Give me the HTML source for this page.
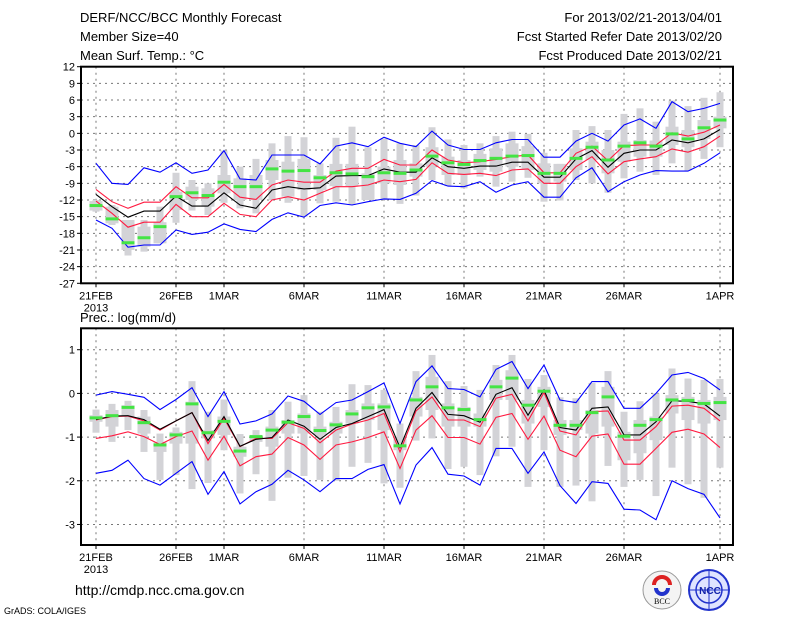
<!DOCTYPE html>
<html><head><meta charset="utf-8"><style>
html,body{margin:0;padding:0;background:#fff;}
svg{display:block;font-family:"Liberation Sans",sans-serif;}
</style></head><body>
<svg id="chart" width="800" height="618" viewBox="0 0 800 618" xmlns="http://www.w3.org/2000/svg">
<rect width="800" height="618" fill="#fff"/>
<g font-size="13" fill="#000">
<text x="80" y="22">DERF/NCC/BCC Monthly Forecast</text>
<text x="80" y="41">Member Size=40</text>
<text x="80" y="60">Mean Surf. Temp.: °C</text>
<text x="722" y="22" text-anchor="end">For 2013/02/21-2013/04/01</text>
<text x="722" y="41" text-anchor="end">Fcst Started Refer Date 2013/02/20</text>
<text x="722" y="60" text-anchor="end">Fcst Produced Date 2013/02/21</text>
<text x="80" y="322">Prec.: log(mm/d)</text>
</g>
<g id="top"></g>
<g id="bot"></g>
<text x="75" y="595" font-size="14">http://cmdp.ncc.cma.gov.cn</text>
<text x="4" y="614" font-size="9">GrADS: COLA/IGES</text>
<g>
<circle cx="662" cy="590" r="19" fill="#f4f4f4" stroke="#999" stroke-width="1"/>
<path d="M654 585 a8 8 0 1 1 16 0" fill="none" stroke="#d22" stroke-width="4"/>
<path d="M656 588 a6 6 0 0 0 12 0" fill="none" stroke="#23c" stroke-width="4"/>
<text x="662" y="604" font-size="8" text-anchor="middle" font-family="Liberation Serif,serif">BCC</text>
</g>
<g>
<circle cx="709" cy="590" r="20" fill="#dfe4ff" stroke="#23c" stroke-width="2"/>
<circle cx="709" cy="590" r="13" fill="none" stroke="#23c" stroke-width="1.5"/>
<line x1="689" y1="590" x2="729" y2="590" stroke="#23c"/>
<line x1="709" y1="570" x2="709" y2="610" stroke="#23c"/>
<text x="710" y="594" font-size="10" font-weight="bold" text-anchor="middle" fill="#12a">NCC</text>
</g>
</svg>
<script>
// ---- temperature panel data ----
const tBlueHi=[-5.4,-9,-9.2,-6.2,-7,-5.3,-7.2,-6.6,-3.1,-8.2,-8.4,-3.9,-3.9,-3.9,-5.5,-2.3,-1.7,-2.4,-0.7,-1.8,-2.4,0.4,-2.1,-2.9,-2.9,-1.7,-1.1,-1.1,-4.3,-4.3,-1.4,0,-1.4,1.5,2.6,0.9,5.7,3.9,4.5,5.4];
const tRedHi=[-10.1,-12.3,-13.5,-12.4,-12.4,-9.6,-11.6,-11.6,-9.2,-11.5,-11.9,-9.3,-8.4,-8.8,-8.8,-6.8,-6.3,-6.3,-4.7,-5.7,-5.7,-3,-4.8,-5.3,-5.1,-4.7,-4.2,-3.9,-7.1,-7.1,-3.6,-2.3,-4.9,-2.2,-2.1,-2.1,0.1,-0.5,0.2,1.5];
const tMean=[-11,-13.2,-15.1,-14,-14,-11.3,-13.1,-13.1,-10.7,-12.9,-13.5,-10.2,-9.6,-10,-9.8,-7.7,-7.6,-7.6,-6.4,-7,-7,-4.4,-6,-6.3,-5.9,-5.9,-5.2,-5.2,-7.9,-7.9,-4.6,-3.1,-6.1,-3.6,-3,-3,-1.2,-1.7,-1,0.7];
const tRedLo=[-12.2,-14.4,-16.9,-16,-16,-12.8,-15,-15,-12.6,-14.6,-15,-12,-11.4,-12,-10.8,-9.6,-9.6,-9.3,-8.4,-8.7,-8.3,-5.3,-7.2,-7.4,-7.2,-7.6,-6.6,-6.4,-9,-9,-6,-4.2,-7.3,-5.1,-4.6,-4.2,-2.8,-3.4,-2.4,-0.5];
const tBlueLo=[-15.6,-17.1,-20.5,-20.1,-20.1,-17.4,-18.2,-17.8,-16.3,-17.3,-17.7,-15.5,-14.3,-15.1,-13,-12.5,-12.9,-12.3,-11.8,-11.9,-10.8,-8.5,-9.5,-9.6,-8.7,-10.6,-9.3,-8.7,-11.5,-11.5,-8,-6.2,-10.5,-8.7,-7.5,-6.7,-6.8,-6.8,-5.4,-3.5];
const tMax=[-12,-12.9,-15.6,-15.6,-13.2,-7.1,-8.4,-9,-3.1,-6,-4.6,-1.8,-0.5,-0.7,-5.4,-0.8,1.2,-2.5,-0.9,-1.8,-2.1,1.1,-1.1,-2.1,-1.8,-0.5,0.3,-0.1,-3.5,-5.5,0.6,1.3,0.6,3.5,4.5,2.1,5.9,4.9,6.4,7.4];
const tMin=[-14.1,-16.5,-22,-21.3,-19.8,-16.1,-13.9,-14.7,-12.5,-13.5,-14.4,-12,-12.5,-15,-12.6,-12.3,-12.9,-12,-12,-12.7,-11.2,-8.4,-9.5,-9.9,-7.8,-9.6,-8.7,-8,-12.3,-12.1,-8.4,-9,-10.7,-8.1,-6.9,-7.5,-5.4,-6.7,-4.6,-2.5];
const tBoxHi=[-12.2,-13.2,-15.6,-16.8,-16,-10.5,-9.6,-9.9,-7.5,-8.1,-7.5,-4.8,-5.1,-4.6,-7.5,-5.5,-5.5,-7.2,-6,-4.8,-5.4,-2.5,-4.2,-4.8,-3.7,-2.7,-1.8,-2.3,-5.4,-5.5,-2.7,-1.5,-3,-1.5,-1.2,-1.3,1.2,0.6,2.4,3];
const tBoxLo=[-13.9,-16.2,-21,-20.4,-19.8,-13.8,-12,-13.2,-10.8,-12,-12,-8.4,-11.4,-10.2,-10.2,-9.5,-9.5,-12,-9,-9.3,-7.8,-6,-7.5,-7.5,-6.6,-6.9,-6,-6.6,-9,-8.7,-6.6,-4.8,-7.2,-5.1,-4.2,-4.2,-2.1,-2.5,-1,0.9];
const tObs=[-13,-15.4,-19.7,-18.8,-16.8,-11.4,-10.7,-11.2,-8.8,-9.6,-9.6,-6.4,-6.8,-6.7,-8,-7.1,-7.3,-7.8,-7.1,-7.2,-6.6,-4.1,-5.3,-5.6,-4.9,-4.5,-4.1,-4.0,-7.2,-7.2,-4.5,-2.5,-4.8,-2.3,-1.7,-2.3,-0.1,-1.0,1.0,2.4];
const tTicks=[12,9,6,3,0,-3,-6,-9,-12,-15,-18,-21,-24,-27];
// ---- precipitation panel data ----
const pBlueHi=[-0.04,0.04,-0.02,-0.09,-0.37,-0.14,0.13,-0.53,0.04,-0.70,-0.63,-0.47,-0.06,-0.18,-0.48,-0.21,-0.15,0.04,0.24,-0.69,0.27,0.63,0.11,0.09,-0.08,0.55,0.73,0.11,0.65,-0.15,-0.21,0.27,0.27,-0.34,-0.34,0,0.42,0.48,0.34,0.08];
const pRedHi=[-0.61,-0.53,-0.52,-0.63,-0.84,-0.63,-0.44,-1.15,-0.57,-1.22,-1.03,-1.03,-0.67,-0.80,-1.13,-0.84,-0.70,-0.61,-0.46,-1.34,-0.40,-0.08,-0.61,-0.61,-0.76,-0.11,-0.02,-0.63,0.02,-0.86,-0.95,-0.42,-0.40,-1.07,-1.07,-0.76,-0.29,-0.27,-0.34,-0.63];
const pMean=[-0.60,-0.52,-0.51,-0.60,-0.82,-0.63,-0.44,-1.08,-0.53,-1.21,-1.05,-1.01,-0.61,-0.75,-1.05,-0.78,-0.69,-0.53,-0.37,-1.24,-0.34,0.02,-0.48,-0.51,-0.66,-0.02,0.13,-0.50,0.08,-0.78,-0.84,-0.34,-0.31,-0.95,-0.95,-0.65,-0.17,-0.18,-0.24,-0.52];
const pRedLo=[-1.03,-0.97,-0.88,-0.99,-1.17,-0.99,-0.86,-1.53,-0.98,-1.66,-1.45,-1.39,-1.01,-1.18,-1.51,-1.18,-1.11,-1.01,-0.88,-1.72,-0.84,-0.51,-1.01,-1.01,-1.16,-0.55,-0.46,-1.05,-0.52,-1.30,-1.45,-0.98,-0.93,-1.62,-1.62,-1.26,-0.89,-0.82,-0.93,-1.24];
const pBlueLo=[-1.83,-1.76,-1.53,-1.95,-2.10,-1.83,-1.56,-2.31,-1.79,-2.53,-2.25,-2.08,-1.76,-1.98,-2.25,-1.95,-1.95,-1.74,-1.63,-2.53,-1.64,-1.24,-1.85,-1.89,-2.10,-1.26,-1.26,-1.83,-1.34,-2.11,-2.52,-2.02,-2.06,-2.65,-2.67,-2.89,-2.00,-2.18,-2.31,-2.85];
const pMax=[-0.37,-0.24,-0.17,-0.38,-0.92,-0.78,0.28,-0.42,-0.14,-0.93,-0.84,-0.38,-0.19,-0.04,-0.42,-0.31,0.21,0.19,0.08,-0.69,0.51,0.88,0.28,0.17,0.08,0.65,0.88,0.33,0.42,-0.09,-0.11,0.24,0.51,-0.42,-0.18,0,0.57,0.34,0.31,0.33];
const pMin=[-0.90,-1.11,-0.84,-1.34,-1.98,-1.87,-2.19,-2.05,-1.30,-2.29,-1.85,-2.46,-1.93,-1.89,-1.98,-2.00,-1.68,-1.59,-2.06,-2.16,-1.08,-1.03,-1.73,-1.68,-1.87,-1.44,-1.22,-2.14,-1.30,-2.14,-2.11,-2.47,-1.66,-2.14,-1.98,-2.35,-1.70,-2.08,-2.39,-1.70];
const pBoxHi=[-0.50,-0.38,-0.27,-0.53,-1.11,-0.88,-0.19,-0.84,-0.53,-1.22,-0.95,-0.76,-0.61,-0.46,-0.76,-0.65,-0.38,-0.23,-0.23,-0.99,-0.08,0.38,-0.23,-0.31,-0.46,0.31,0.53,-0.15,0.15,-0.61,-0.61,-0.38,0.15,-0.88,-0.61,-0.53,-0.04,-0.08,-0.15,-0.08];
const pBoxLo=[-0.65,-0.76,-0.53,-0.92,-1.34,-1.15,-1.15,-1.03,-0.95,-1.45,-1.11,-1.22,-0.92,-0.92,-0.95,-0.92,-0.69,-0.61,-0.84,-1.30,-0.53,-0.38,-0.76,-0.76,-0.76,-0.15,-0.15,-0.69,-0.31,-0.95,-0.84,-0.92,-0.76,-1.53,-1.37,-1.07,-0.46,-0.61,-0.69,-0.61];
const pObs=[-0.56,-0.51,-0.32,-0.67,-1.18,-0.95,-0.24,-0.90,-0.64,-1.32,-0.99,-0.84,-0.66,-0.53,-0.85,-0.72,-0.47,-0.33,-0.31,-1.20,-0.15,0.15,-0.33,-0.37,-0.60,0.15,0.35,-0.27,0.05,-0.73,-0.73,-0.44,-0.08,-0.98,-0.73,-0.60,-0.15,-0.16,-0.23,-0.21];
const pTicks=[1,0,-1,-2,-3];
// ---- shared x axis ----
const dayLabels=["21FEB","26FEB","1MAR","6MAR","11MAR","16MAR","21MAR","26MAR","1APR"];
const dayLabelIdx=[0,5,8,13,18,23,28,33,39];

const NS="http://www.w3.org/2000/svg";
const X0=81,X1=733;
function xs(d){return 96+16*d;}
function mk(parent,tag,attrs){const e=document.createElementNS(NS,tag);for(const k in attrs)e.setAttribute(k,attrs[k]);parent.appendChild(e);return e;}

function drawPanel(g,top,bottom,vTop,vBot,ticks,series,pfx){
  const ys=v=>top+(vTop-v)*(bottom-top)/(vTop-vBot);
  // grid
  ticks.forEach(t=>{
    const y=ys(t);
    if(y>top+1&&y<bottom-1){const l=mk(g,'line',{x1:X0,x2:X1,y1:y,y2:y,stroke:'#777','stroke-dasharray':'2 4','stroke-width':1});
    
    }
    const tk=mk(g,'line',{x1:X0-4,x2:X0,y1:y,y2:y,stroke:'#000'});
    
    
    const tx=mk(g,'text',{x:X0-6,y:y+4,'font-size':11,'text-anchor':'end'});tx.textContent=t;
    
    
  });
  dayLabelIdx.forEach((d,i)=>{
    const x=xs(d);
    const l=mk(g,'line',{x1:x,x2:x,y1:top,y2:bottom,stroke:'#777','stroke-dasharray':'2 4'});
    
    
    const tk=mk(g,'line',{x1:x,x2:x,y1:bottom,y2:bottom+4,stroke:'#000'});
    
    
    const tx=mk(g,'text',{x:x,y:bottom+16,'font-size':11,'text-anchor':'middle'});tx.textContent=dayLabels[i];
    
    
  });
  const yr=mk(g,'text',{x:xs(0),y:bottom+28,'font-size':11,'text-anchor':'middle'});yr.textContent='2013';
  
  
  // gray bars
  series.max.forEach((v,d)=>{
    const x=xs(d);
    const r1=mk(g,'rect',{x:x-3.5,width:7,y:ys(v),height:Math.max(1,ys(series.min[d])-ys(v)),fill:'#d3d3d7'});
    
    
    const r2=mk(g,'rect',{x:x-6.5,width:13,y:ys(series.bhi[d]),height:Math.max(1,ys(series.blo[d])-ys(series.bhi[d])),fill:'#d3d3d7'});
    
    
  });
  const line=(arr,col,name)=>{
    const p=mk(g,'polyline',{points:arr.map((v,d)=>xs(d)+','+ys(v).toFixed(1)).join(' '),fill:'none',stroke:col,'stroke-width':1.1});
    
    
  };
  line(series.bhi,null||series.bhi?null:null,'x');
  g.lastChild.remove();
  line(series.blueHi,'#0000ff',pfx+'-blue-upper-line');
  line(series.blueLo,'#0000ff',pfx+'-blue-lower-line');
  line(series.redHi,'#ff1a40',pfx+'-red-upper-line');
  line(series.redLo,'#ff1a40',pfx+'-red-lower-line');
  line(series.mean,'#000000',pfx+'-ensemble-mean-line');
  series.obs.forEach((v,d)=>{
    const r=mk(g,'rect',{x:xs(d)-6.5,width:13,y:ys(v)-1.5,height:3,fill:'#44e444'});
    
    
  });
  const f=mk(g,'rect',{x:X0,y:top,width:X1-X0,height:bottom-top,fill:'none',stroke:'#000','stroke-width':2});
  
  
}
drawPanel(document.getElementById('top'),66.7,283.3,12,-27,tTicks,
 {max:tMax,min:tMin,bhi:tBoxHi,blo:tBoxLo,blueHi:tBlueHi,blueLo:tBlueLo,redHi:tRedHi,redLo:tRedLo,mean:tMean,obs:tObs},'temp');
drawPanel(document.getElementById('bot'),328.3,545,1.49,-3.47,pTicks,
 {max:pMax,min:pMin,bhi:pBoxHi,blo:pBoxLo,blueHi:pBlueHi,blueLo:pBlueLo,redHi:pRedHi,redLo:pRedLo,mean:pMean,obs:pObs},'prec');
</script>
</body></html>
